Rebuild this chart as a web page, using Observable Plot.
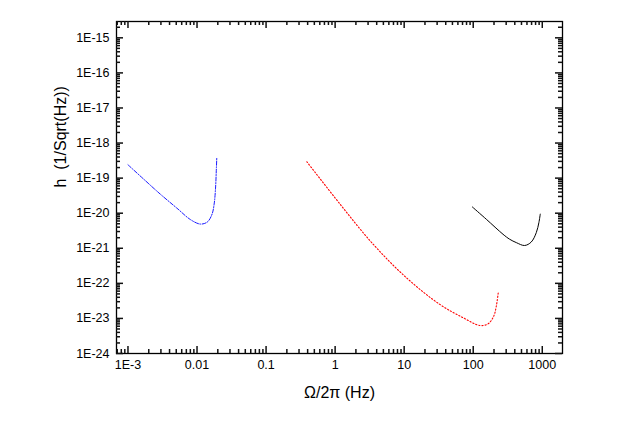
<!DOCTYPE html>
<html>
<head>
<meta charset="utf-8">
<script src="https://cdn.jsdelivr.net/npm/d3@7"></script>
<script src="https://cdn.jsdelivr.net/npm/@observablehq/plot@0.6"></script>
<style>
  html, body { margin: 0; padding: 0; background: #fff; }
  #chart { width: 621px; height: 427px; }
</style>
</head>
<body>
<div id="chart"></div>
<script>
// Blue (dash-dot) curve
const blueF = [0.001, 0.00169, 0.00295, 0.00514, 0.0080, 0.01117, 0.0141, 0.01648, 0.01778, 0.01858, 0.01901, 0.01932];
const blueH = [2.40e-19, 9.33e-20, 3.47e-20, 1.38e-20, 6.6e-21, 4.9e-21, 5.6e-21, 9.3e-21, 1.95e-20, 5.6e-20, 1.62e-19, 3.8e-19];
// Red (dotted) curve
const redF = [0.39, 1.18, 3.56, 10.8, 32.8, 71.3, 124, 164, 198, 216, 230];
const redH = [2.92e-19, 1.81e-20, 1.30e-21, 1.44e-22, 2.51e-23, 1.05e-23, 6.3e-24, 7.0e-24, 1.16e-23, 2.24e-23, 5.3e-23];
// Black (solid) curve
const blackF = [97, 155, 270, 337, 421, 555, 693, 819, 893, 935];
const blackH = [1.51e-20, 6.7e-21, 2.51e-21, 1.81e-21, 1.45e-21, 1.20e-21, 1.51e-21, 2.79e-21, 5.4e-21, 9.4e-21];

const xMajor = [1e-3, 1e-2, 1e-1, 1, 10, 100, 1000];
const xMajorLabels = ["1E-3", "0.01", "0.1", "1", "10", "100", "1000"];
const yMajor = [1e-15, 1e-16, 1e-17, 1e-18, 1e-19, 1e-20, 1e-21, 1e-22, 1e-23, 1e-24];
const yMajorLabels = ["1E-15", "1E-16", "1E-17", "1E-18", "1E-19", "1E-20", "1E-21", "1E-22", "1E-23", "1E-24"];
const xDomain = [6.82e-4, 1963];
const yDomain = [1e-24, 2.92e-15];
const xTitle = "Ω/2π (Hz)";
const yTitle = "h  (1/Sqrt(Hz))";

const toRows = (F, H) => F.map((f, i) => ({f, h: H[i]}));
const blue = toRows(blueF, blueH);
const red = toRows(redF, redH);
const black = toRows(blackF, blackH);

function minors(lo, hi) {
  const out = [];
  for (let e = Math.floor(Math.log10(lo)); e <= Math.ceil(Math.log10(hi)); e++) {
    for (let m = 2; m <= 9; m++) {
      const v = m * Math.pow(10, e);
      if (v >= lo && v <= hi) out.push(v);
    }
  }
  return out;
}
const xMinor = minors(xDomain[0], xDomain[1]);
const yMinor = minors(yDomain[0], yDomain[1]);
const xFmt = (d) => xMajorLabels[xMajor.findIndex(v => Math.abs(Math.log10(v) - Math.log10(d)) < 1e-6)] ?? "";
const yFmt = (d) => yMajorLabels[yMajor.findIndex(v => Math.abs(Math.log10(v) - Math.log10(d)) < 1e-6)] ?? "";

const font = "Liberation Sans, Arial, Helvetica, sans-serif";
const W = 621, H = 427, ML = 116, MR = 59, MT = 21, MB = 74;
const FW = W - ML - MR, FH = H - MT - MB;
const MAJ = 7, MIN = 4, TW = 1.5;

const plot = Plot.plot({
  width: W,
  height: H,
  marginLeft: ML,
  marginRight: MR,
  marginTop: MT,
  marginBottom: MB,
  style: {fontFamily: font},
  x: {type: "log", domain: xDomain, axis: null},
  y: {type: "log", domain: yDomain, axis: null},
  marks: [
    Plot.line(blue, {x: "f", y: "h", stroke: "#1a1aff", strokeWidth: 1, strokeDasharray: "4,1.5,1,1.5", curve: "catmull-rom"}),
    Plot.line(red, {x: "f", y: "h", stroke: "#ff0000", strokeWidth: 1.1, strokeDasharray: "1.2,2", curve: "catmull-rom"}),
    Plot.line(black, {x: "f", y: "h", stroke: "#000000", strokeWidth: 1, curve: "catmull-rom"}),
    Plot.frame({stroke: "black", strokeWidth: 1.3}),
    // inward ticks: bottom, top, left, right
    Plot.ruleX(xMajor, {x: d => d, insetTop: FH - MAJ, stroke: "#111", strokeWidth: TW}),
    Plot.ruleX(xMinor, {x: d => d, insetTop: FH - MIN, stroke: "#111", strokeWidth: TW}),
    Plot.ruleX(xMajor, {x: d => d, insetBottom: FH - MAJ, stroke: "#111", strokeWidth: TW}),
    Plot.ruleX(xMinor, {x: d => d, insetBottom: FH - MIN, stroke: "#111", strokeWidth: TW}),
    Plot.ruleY(yMajor, {y: d => d, insetRight: FW - MAJ, stroke: "#111", strokeWidth: TW}),
    Plot.ruleY(yMinor, {y: d => d, insetRight: FW - MIN, stroke: "#111", strokeWidth: TW}),
    Plot.ruleY(yMajor, {y: d => d, insetLeft: FW - MAJ, stroke: "#111", strokeWidth: TW}),
    Plot.ruleY(yMinor, {y: d => d, insetLeft: FW - MIN, stroke: "#111", strokeWidth: TW}),
    // tick labels
    Plot.axisX({anchor: "bottom", ticks: xMajor, tickSize: 0, tickPadding: 7, tickFormat: xFmt, label: null, fontSize: 12.5, fill: "black"}),
    Plot.axisY({anchor: "left", ticks: yMajor, tickSize: 0, tickPadding: 7, tickFormat: yFmt, label: null, fontSize: 12.5, fill: "black"}),
    // axis titles
    Plot.text([xTitle], {frameAnchor: "bottom", text: d => d, dy: 39, fontSize: 16, lineAnchor: "middle", fill: "black"}),
    Plot.text([yTitle], {frameAnchor: "left", text: d => d, dx: -56, rotate: -90, fontSize: 16, lineAnchor: "middle", fill: "black"})
  ]
});
document.getElementById("chart").appendChild(plot);
</script>
</body>
</html>
